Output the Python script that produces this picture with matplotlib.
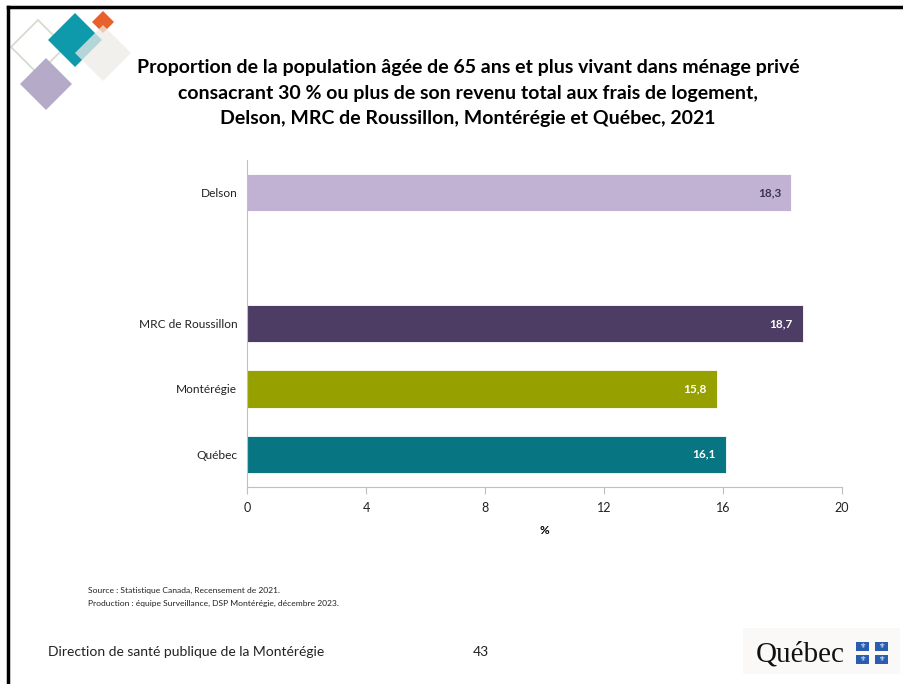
import matplotlib
matplotlib.use("Agg")
import matplotlib.pyplot as plt
from matplotlib.patches import Polygon, Rectangle
import numpy as np

plt.rcParams['font.family'] = ['Lato', 'DejaVu Sans']

# data
categories = ["Delson", "", "MRC de Roussillon", "Montérégie", "Québec"]
values = [18.3, None, 18.7, 15.8, 16.1]
bar_colors = ["#C1B1D2", "none", "#4D3C63", "#96A100", "#077582"]
label_colors = ["#3B3550", "none", "white", "white", "white"]
x_ticks = [0, 4, 8, 12, 16, 20]

title = ("Proportion de la population âgée de 65 ans et plus vivant dans ménage privé\n"
         "consacrant 30 % ou plus de son revenu total aux frais de logement,\n"
         "Delson, MRC de Roussillon, Montérégie et Québec, 2021")

fig = plt.figure(figsize=(9.04, 6.84), dpi=100)
W, H = 904, 684

def fx(px):
    return px / W

def fy(py):
    return 1 - py / H

# frame lines (top and left)
fig.add_artist(plt.Line2D([fx(8), 1], [fy(7), fy(7)], color="black", lw=2.5))
fig.add_artist(plt.Line2D([fx(8), fx(8)], [fy(7), 0], color="black", lw=2.5))

# logo diamonds
def diamond(cx, cy, r, **kw):
    pts = [(fx(cx), fy(cy - r)), (fx(cx + r), fy(cy)), (fx(cx), fy(cy + r)), (fx(cx - r), fy(cy))]
    fig.add_artist(Polygon(pts, closed=True, transform=fig.transFigure, **kw))

diamond(38, 47, 27, facecolor="none", edgecolor="#D5DDCF", lw=1.3)
diamond(46, 84, 26, facecolor="#B5AAC8", edgecolor="none")
diamond(75, 40, 27, facecolor="#0E9AAA", edgecolor="none")
diamond(103, 22, 11, facecolor="#E8612A", edgecolor="none")
diamond(103, 53, 28, facecolor="#EDEBE8", edgecolor="none", alpha=0.75)

# title
fig.text(fx(468), fy(93), title, ha="center", va="center", fontsize=14,
         fontweight="bold", color="black", linespacing=1.58)

# chart
ax = fig.add_axes([fx(247), fy(487), fx(842) - fx(247), fy(160) - fy(487)])
y = np.arange(len(categories))
for i, (v, c) in enumerate(zip(values, bar_colors)):
    if v is None:
        continue
    ax.barh(y[i], v, height=0.57, color=c, edgecolor="white", linewidth=0.6)
    ax.text(v - 0.35, y[i], f"{v:.1f}".replace(".", ","), ha="right", va="center",
            fontsize=8.5, fontweight="bold", color=label_colors[i])

ax.set_ylim(len(categories) - 0.5, -0.5)
ax.set_xlim(0, 20)
ax.set_yticks(y)
ax.set_yticklabels(categories, fontsize=8.6, color="#222222")
ax.set_xticks(x_ticks)
ax.set_xticklabels([str(t) for t in x_ticks], fontsize=9, color="#222222")
ax.tick_params(axis="y", length=0, pad=7)
ax.tick_params(axis="x", direction="out", length=5, color="#BFBFBF", pad=6)
for s in ["top", "right"]:
    ax.spines[s].set_visible(False)
for s in ["left", "bottom"]:
    ax.spines[s].set_color("#BFBFBF")
ax.set_xlabel("%", fontsize=8.5, fontweight="bold", labelpad=8)

# source notes
fig.text(fx(88), fy(590), "Source : Statistique Canada, Recensement de 2021.",
         fontsize=6.1, va="center", color="#222222")
fig.text(fx(88), fy(603), "Production : équipe Surveillance, DSP Montérégie, décembre 2023.",
         fontsize=6.1, va="center", color="#222222")

# footer
fig.text(fx(48), fy(652), "Direction de santé publique de la Montérégie",
         fontsize=10, va="center", color="#222222")
fig.text(fx(481), fy(652), "43", fontsize=10, va="center", ha="center", color="#222222")

# Québec logo
fig.add_artist(Rectangle((fx(743), fy(674)), fx(157), fy(628) - fy(674),
                         transform=fig.transFigure, facecolor="#FBF9F7", edgecolor="none"))
fig.text(fx(756), fy(655), "Québec", fontsize=21, va="center", ha="left",
         family=["Liberation Serif", "DejaVu Serif"], color="#111111")
for qx, qy in [(856, 646), (875, 646), (856, 659), (875, 659)]:
    fig.add_artist(Rectangle((fx(qx), fy(qy + 4.5)), fx(13), fy(qy - 4.5) - fy(qy + 4.5),
                             transform=fig.transFigure, facecolor="#2A5DB0", edgecolor="none"))
    fig.text(fx(qx + 6.5), fy(qy), "⚜", fontsize=5, ha="center", va="center",
             color="white", family=["DejaVu Sans"])

fig.savefig("out.png", dpi=100)
